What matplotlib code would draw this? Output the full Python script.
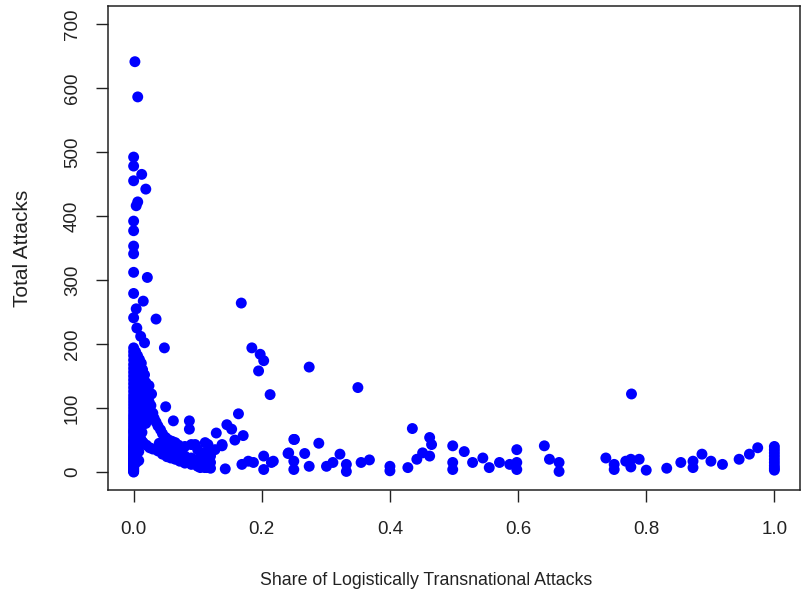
import matplotlib
matplotlib.use("Agg")
import matplotlib.pyplot as plt
import numpy as np

# ── Datos ─────────────────────────────────────────────────────────────────────

# columna en share = 0
total_share_cero = [0, 1, 2, 3, 4, 5, 6, 7, 8, 9, 10, 11, 12, 13, 14, 15, 16, 17,
                    18, 19, 20, 22, 24, 26, 28, 30, 32, 34, 36, 38, 40, 42, 45,
                    48, 50, 53, 56, 60, 63, 66, 70, 74, 78, 82, 86, 90, 95, 100,
                    105, 110, 115, 120, 126, 132, 138, 144, 150, 156, 162, 168,
                    175, 182, 188, 194, 241, 279, 312, 341, 353, 377, 392, 455,
                    478, 492]

# valores altos cerca de share 0
share_altos = [0.002, 0.0064, 0.0126, 0.019, 0.0064, 0.004, 0.0214, 0.015,
               0.004, 0.035, 0.005, 0.011, 0.017, 0.048]
total_altos = [641, 586, 465, 442, 422, 416, 304, 267, 255, 239, 225, 212,
               202, 194]

# nube densa junto a share 0
share_nube = [0.003, 0.006, 0.009, 0.004, 0.008, 0.012, 0.004, 0.009, 0.014,
              0.017, 0.004, 0.009, 0.014, 0.019, 0.004, 0.009, 0.014, 0.020,
              0.022, 0.004, 0.009, 0.014, 0.019, 0.024, 0.027, 0.004, 0.009,
              0.014, 0.019, 0.026, 0.030, 0.004, 0.009, 0.014, 0.020, 0.026,
              0.032, 0.035, 0.004, 0.009, 0.014, 0.019, 0.038, 0.042, 0.004,
              0.009, 0.013, 0.045, 0.050, 0.004, 0.009, 0.012, 0.055, 0.060,
              0.065, 0.004, 0.008, 0.004, 0.008, 0.024, 0.028]
total_nube = [188, 182, 176, 172, 166, 170, 158, 155, 160, 152, 142, 140, 145,
              140, 128, 126, 130, 128, 120, 114, 112, 116, 112, 110, 104, 100,
              98, 102, 98, 96, 92, 86, 84, 88, 86, 84, 84, 78, 72, 70, 74, 76,
              72, 66, 58, 56, 62, 60, 54, 44, 46, 50, 50, 48, 46, 30, 32, 15, 18,
              135, 122]

# banda curva (share pequeño, total bajo)
share_curva = [0.010, 0.015, 0.020, 0.025, 0.030, 0.038, 0.045, 0.052, 0.058,
               0.065, 0.072, 0.080, 0.090, 0.100, 0.111, 0.120, 0.040, 0.050,
               0.060, 0.070, 0.080, 0.090, 0.100, 0.110, 0.120, 0.070, 0.080,
               0.090, 0.100, 0.110, 0.116, 0.120, 0.104, 0.114, 0.127, 0.138]
total_curva = [53, 46, 42, 38, 36, 33, 28, 24, 22, 20, 17, 14, 12, 9, 7, 6,
               45, 38, 33, 28, 25, 22, 20, 18, 15, 42, 40, 43, 35, 30, 43, 25,
               7, 7, 35, 41]

# puntos dispersos
share_resto = [0.168, 0.1845, 0.1975, 0.203, 0.195, 0.213, 0.050, 0.1636,
               0.062, 0.087, 0.087, 0.1455, 0.153, 0.129, 0.171, 0.158, 0.251,
               0.096, 0.1116, 0.138, 0.119, 0.242, 0.143, 0.169, 0.179, 0.203,
               0.203, 0.218, 0.187, 0.215,
               0.274, 0.350, 0.250, 0.241, 0.250, 0.250, 0.267, 0.274, 0.289,
               0.301, 0.311, 0.322, 0.332, 0.332, 0.355, 0.368, 0.400, 0.400,
               0.428, 0.435, 0.442, 0.451, 0.462, 0.465, 0.462, 0.498, 0.498,
               0.498, 0.516, 0.529, 0.545, 0.555, 0.571, 0.587, 0.598, 0.598,
               0.598,
               0.777, 0.641, 0.649, 0.664, 0.664, 0.737, 0.750, 0.750, 0.768,
               0.776, 0.789, 0.776, 0.800, 0.832, 0.854, 0.873, 0.873, 0.887,
               0.901, 0.919, 0.945, 0.961, 0.974,
               1.0, 1.0, 1.0, 1.0, 1.0, 1.0, 1.0, 1.0, 1.0]
total_resto = [264, 194, 184, 174, 158, 121, 102, 91, 80, 80, 67, 74, 67, 61,
               57, 50, 51, 43, 46, 43, 33, 30, 5, 12, 17, 25, 4, 17, 15, 15,
               164, 132, 51, 29, 17, 4, 29, 9, 45, 9, 15, 28, 12, 1, 15, 19,
               9, 2, 7, 68, 20, 30, 54, 43, 25, 41, 15, 4, 32, 15, 22, 7, 15,
               12, 35, 15, 4,
               122, 41, 20, 15, 1, 22, 4, 12, 17, 20, 20, 8, 3, 6, 15, 7, 17,
               28, 17, 12, 20, 28, 38,
               40, 35, 30, 25, 20, 15, 10, 6, 3]

x_ticks = [0.0, 0.2, 0.4, 0.6, 0.8, 1.0]
y_ticks = [0, 100, 200, 300, 400, 500, 600, 700]

# ── Gráfico ───────────────────────────────────────────────────────────────────

plt.rcParams["font.family"] = ["Liberation Sans", "DejaVu Sans"]

share = ([0.0] * len(total_share_cero) + share_altos + share_nube
         + share_curva + share_resto)
total = total_share_cero + total_altos + total_nube + total_curva + total_resto

fig = plt.figure(figsize=(8.02, 6.0), dpi=100)
ax = fig.add_axes([108 / 802, 110 / 600, 692 / 802, 484 / 600])

ax.scatter(share, total, s=62, color="#0000FF", edgecolors="none", zorder=3)

ax.set_xlim(-0.04, 1.04)
ax.set_ylim(-28, 728)
ax.set_xticks(x_ticks)
ax.set_xticklabels([f"{v:.1f}" for v in x_ticks])
ax.set_yticks(y_ticks)
ax.set_yticklabels([str(v) for v in y_ticks], rotation=90, va="center")

ax.tick_params(axis="both", direction="out", length=8.5, width=1.0,
               labelsize=13.5, colors="#222222")
ax.tick_params(axis="x", pad=14)
ax.tick_params(axis="y", pad=11)
for sp in ax.spines.values():
    sp.set_linewidth(1.1)
    sp.set_color("#222222")

# el título del eje x queda algo a la izquierda en el original
ax.set_xlabel("Share of Logistically Transnational Attacks", fontsize=12.8,
              color="#222222")
ax.xaxis.set_label_coords(0.46, -0.186)
ax.xaxis.label.set_va("center")
ax.set_ylabel("Total Attacks", fontsize=15, color="#222222")
ax.yaxis.set_label_coords(-0.124, 0.5)
ax.yaxis.label.set_va("center")

fig.savefig("out.png", dpi=100)
